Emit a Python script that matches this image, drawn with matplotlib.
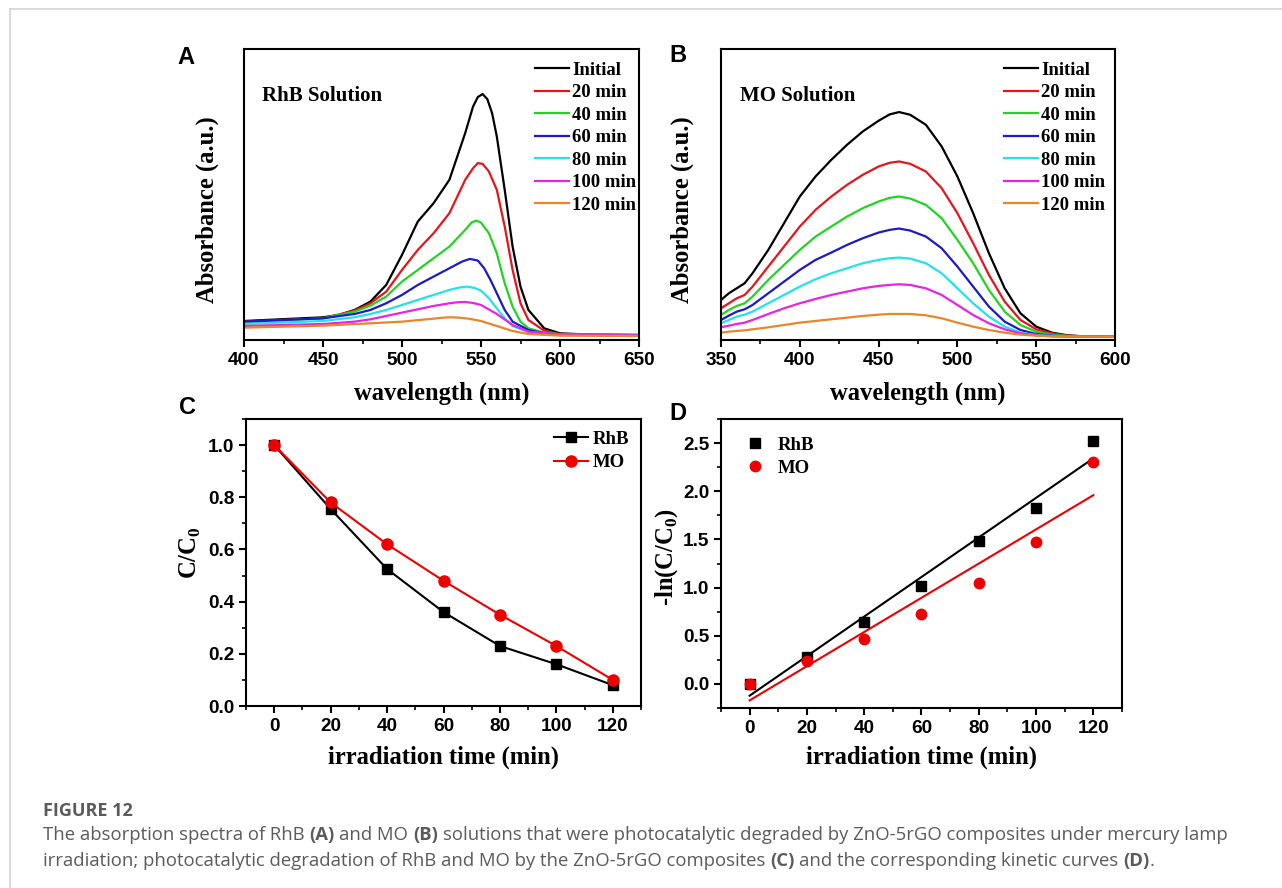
import numpy as np
import matplotlib
matplotlib.use("Agg")
import matplotlib.pyplot as plt
from matplotlib.lines import Line2D
from matplotlib.ticker import MultipleLocator

# ─────────────────────────────────────────────────────────────────────────────
# Data
# ─────────────────────────────────────────────────────────────────────────────

series_labels = ["Initial", "20 min", "40 min", "60 min", "80 min", "100 min", "120 min"]
series_colors = ["#000000", "#e8141c", "#22d422", "#1a1ac8", "#22e2ea", "#e624e6", "#e8862a"]

# (A) RhB spectra: wavelength (nm) and absorbance (a.u.)
rhb_wl = [
    [400, 450, 460, 470, 480, 490, 500, 510, 520, 530, 540, 545, 548, 551, 554, 557, 560, 565, 570, 575, 580, 590, 600, 620, 650],
    [400, 450, 470, 480, 490, 500, 510, 520, 530, 540, 545, 548, 551, 555, 560, 565, 570, 575, 580, 590, 600, 650],
    [400, 450, 470, 480, 490, 500, 510, 520, 530, 540, 544, 547, 550, 555, 560, 565, 570, 575, 580, 590, 600, 650],
    [400, 450, 470, 480, 490, 500, 510, 520, 530, 538, 543, 548, 552, 556, 560, 565, 570, 580, 590, 600, 650],
    [400, 450, 470, 480, 490, 500, 510, 520, 530, 536, 541, 546, 550, 555, 560, 565, 570, 580, 600, 650],
    [400, 450, 470, 480, 490, 500, 510, 520, 530, 535, 540, 545, 550, 560, 570, 580, 600, 650],
    [400, 450, 480, 500, 520, 526, 531, 536, 542, 550, 560, 570, 580, 600, 650],
]
rhb_abs = [
    [.057, .068, .075, .090, .115, .165, .255, .355, .410, .480, .620, .700, .728, .737, .722, .680, .610, .450, .280, .160, .090, .035, .020, .016, .015],
    [.055, .065, .088, .110, .145, .210, .270, .320, .380, .480, .515, .530, .528, .505, .450, .340, .210, .110, .060, .028, .018, .015],
    [.052, .065, .085, .103, .130, .175, .210, .245, .280, .330, .352, .358, .352, .320, .260, .170, .100, .055, .035, .022, .017, .015],
    [.055, .065, .078, .090, .110, .135, .165, .190, .215, .235, .243, .238, .215, .180, .140, .090, .055, .030, .020, .016, .014],
    [.048, .057, .068, .078, .090, .105, .120, .135, .150, .157, .160, .156, .148, .125, .095, .065, .042, .024, .016, .014],
    [.042, .048, .055, .062, .072, .082, .092, .102, .110, .113, .114, .111, .105, .078, .045, .025, .016, .014],
    [.037, .043, .050, .055, .064, .067, .068, .067, .064, .057, .042, .027, .018, .013, .012],
]

# (B) MO spectra
mo_wl = [350, 355, 360, 365, 370, 380, 390, 400, 410, 420, 430, 440, 450, 457, 463, 470,
         480, 490, 500, 510, 520, 530, 540, 550, 560, 570, 580, 600]
mo_abs = [
    [.120, .140, .155, .170, .200, .270, .350, .430, .490, .540, .585, .625, .657, .676, .683, .675,
     .645, .580, .490, .380, .260, .155, .080, .040, .022, .014, .011, .010],
    [.095, .110, .125, .135, .160, .220, .280, .340, .390, .430, .465, .495, .520, .531, .535, .528,
     .505, .455, .380, .290, .195, .115, .060, .032, .020, .013, .011, .010],
    [.075, .090, .102, .110, .130, .180, .225, .270, .310, .340, .370, .395, .415, .426, .430, .424,
     .405, .365, .300, .230, .150, .085, .045, .025, .016, .012, .011, .010],
    [.060, .073, .085, .092, .105, .140, .175, .210, .240, .262, .285, .305, .322, .330, .334, .328,
     .310, .275, .220, .160, .100, .055, .030, .018, .013, .011, .010, .010],
    [.050, .060, .070, .076, .085, .110, .135, .160, .182, .200, .215, .230, .240, .245, .247, .244,
     .230, .200, .155, .110, .070, .040, .022, .015, .012, .011, .010, .010],
    [.038, .043, .048, .052, .060, .078, .095, .110, .123, .135, .145, .155, .162, .165, .167, .165,
     .155, .135, .105, .075, .050, .032, .020, .014, .011, .010, .010, .010],
    [.022, .025, .027, .029, .032, .038, .045, .052, .057, .062, .067, .072, .076, .078, .078, .078,
     .074, .065, .052, .040, .030, .022, .016, .013, .011, .010, .010, .010],
]

# (C) and (D) degradation / kinetics
time_min = [0, 20, 40, 60, 80, 100, 120]
rhb_ratio = [1.0, 0.755, 0.525, 0.36, 0.23, 0.16, 0.08]
mo_ratio = [1.0, 0.78, 0.62, 0.48, 0.35, 0.23, 0.10]
rhb_ln = [0.0, 0.28, 0.64, 1.02, 1.48, 1.83, 2.52]
mo_ln = [0.0, 0.24, 0.47, 0.73, 1.05, 1.47, 2.30]

# ─────────────────────────────────────────────────────────────────────────────
# Styling
# ─────────────────────────────────────────────────────────────────────────────

SERIF = "Liberation Serif"
SANS = "Liberation Sans"
W, H = 1282, 888

plt.rcParams.update({
    "font.family": [SANS, "DejaVu Sans"],
    "font.weight": "bold",
    "axes.linewidth": 1.5,
    "xtick.major.width": 1.5,
    "ytick.major.width": 1.5,
    "xtick.minor.width": 1.2,
    "ytick.minor.width": 1.2,
    "xtick.major.size": 5,
    "ytick.major.size": 5,
    "xtick.minor.size": 3,
    "ytick.minor.size": 3,
    "xtick.direction": "out",
    "ytick.direction": "out",
    "xtick.labelsize": 13.7,
    "ytick.labelsize": 13.7,
    "mathtext.fontset": "custom",
    "mathtext.rm": SERIF,
    "mathtext.bf": SERIF + ":bold",
})

label_font = dict(family=SERIF, weight="bold", size=17.7)
legend_font = dict(family=SERIF, weight="bold", size=13.5)

fig = plt.figure(figsize=(W / 100, H / 100), dpi=100)


def px_axes(left, top, right, bottom):
    """Add axes using pixel coordinates measured from the top-left corner."""
    return fig.add_axes([left / W, 1 - bottom / H, (right - left) / W, (bottom - top) / H])


def style_axes(ax, xlabel, ylabel, xlab_y, ylab_x, ylab_y=0.5):
    ax.set_xlabel(xlabel, fontdict=label_font)
    ax.set_ylabel(ylabel, fontdict=label_font)
    ax.xaxis.set_label_coords(0.5, xlab_y)
    ax.xaxis.label.set_va("center")
    ax.yaxis.set_label_coords(ylab_x, ylab_y)
    ax.yaxis.label.set_va("center")
    ax.tick_params(which="both", top=False, right=False)


def spectra_legend(ax, anchor_x):
    ax.legend(loc="upper right", bbox_to_anchor=(anchor_x, 0.957), frameon=False,
              prop=legend_font, handlelength=1.8, handletextpad=0.18,
              labelspacing=0.29, borderaxespad=0, borderpad=0)


# ─────────────────────────────────────────────────────────────────────────────
# (A) RhB spectra
# ─────────────────────────────────────────────────────────────────────────────

ax_a = px_axes(244, 49, 639, 340)
for wl, ab, lab, col in zip(rhb_wl, rhb_abs, series_labels, series_colors):
    ax_a.plot(wl, ab, color=col, lw=1.6, label=lab)
ax_a.set_xlim(400, 650)
ax_a.set_ylim(0, 0.872)
ax_a.set_yticks([])
ax_a.xaxis.set_major_locator(MultipleLocator(50))
ax_a.xaxis.set_minor_locator(MultipleLocator(25))
style_axes(ax_a, "wavelength (nm)", "Absorbance (a.u.)", -0.182, -0.094, 0.447)
ax_a.text(0.046, 0.822, "RhB Solution", transform=ax_a.transAxes,
          family=SERIF, weight="bold", size=15)
spectra_legend(ax_a, 1 - 2.6 / 395)

# ─────────────────────────────────────────────────────────────────────────────
# (B) MO spectra
# ─────────────────────────────────────────────────────────────────────────────

ax_b = px_axes(721, 49, 1115, 340)
for ab, lab, col in zip(mo_abs, series_labels, series_colors):
    ax_b.plot(mo_wl, ab, color=col, lw=1.6, label=lab)
ax_b.set_xlim(350, 600)
ax_b.set_ylim(0, 0.872)
ax_b.set_yticks([])
ax_b.xaxis.set_major_locator(MultipleLocator(50))
ax_b.xaxis.set_minor_locator(MultipleLocator(25))
style_axes(ax_b, "wavelength (nm)", "Absorbance (a.u.)", -0.182, -0.099, 0.447)
ax_b.text(0.048, 0.822, "MO Solution", transform=ax_b.transAxes,
          family=SERIF, weight="bold", size=15)
spectra_legend(ax_b, 1 - 10 / 394)

# ─────────────────────────────────────────────────────────────────────────────
# (C) C/C0 vs time
# ─────────────────────────────────────────────────────────────────────────────

ax_c = px_axes(246, 419, 641, 706)
ax_c.plot(time_min, rhb_ratio, "-s", color="black", lw=1.5, ms=7.2, label="RhB")
ax_c.plot(time_min, mo_ratio, "-o", color="#ee0000", lw=1.5, ms=8, label="MO")
ax_c.set_xlim(-10, 130)
ax_c.set_ylim(0, 1.1)
ax_c.xaxis.set_major_locator(MultipleLocator(20))
ax_c.xaxis.set_minor_locator(MultipleLocator(10))
ax_c.yaxis.set_major_locator(MultipleLocator(0.2))
ax_c.yaxis.set_minor_locator(MultipleLocator(0.1))
ax_c.yaxis.set_major_formatter(plt.FormatStrFormatter("%.1f"))
style_axes(ax_c, "irradiation time (min)", r"C/C$_\mathbf{0}$", -0.178, -0.142, 0.533)
ax_c.legend(loc="upper right", bbox_to_anchor=(0.97, 0.96), frameon=False,
            prop=legend_font, handlelength=1.8, handletextpad=0.25,
            labelspacing=0.36, borderaxespad=0, borderpad=0)

# ─────────────────────────────────────────────────────────────────────────────
# (D) kinetics with linear fits
# ─────────────────────────────────────────────────────────────────────────────

ax_d = px_axes(721, 419, 1122, 708)
t = np.array(time_min, dtype=float)
for vals, col in [(rhb_ln, "black"), (mo_ln, "#ee0000")]:
    k, b = np.polyfit(t, vals, 1)
    ax_d.plot(t, k * t + b, color=col, lw=1.5)
ax_d.plot(time_min, rhb_ln, "s", color="black", ms=6.8, label="RhB")
ax_d.plot(time_min, mo_ln, "o", color="#ee0000", ms=7.5, label="MO")
ax_d.set_xlim(-10, 130)
ax_d.set_ylim(-0.25, 2.75)
ax_d.xaxis.set_major_locator(MultipleLocator(20))
ax_d.xaxis.set_minor_locator(MultipleLocator(10))
ax_d.yaxis.set_major_locator(MultipleLocator(0.5))
ax_d.yaxis.set_minor_locator(MultipleLocator(0.25))
ax_d.yaxis.set_major_formatter(plt.FormatStrFormatter("%.1f"))
style_axes(ax_d, "irradiation time (min)", r"-ln(C/C$_\mathbf{0}$)", -0.17, -0.135, 0.522)
ax_d.legend(loc="upper left", bbox_to_anchor=(0.067, 0.9386), frameon=False,
            prop=legend_font, handlelength=0.8, handletextpad=0.8,
            labelspacing=0.3, borderaxespad=0, borderpad=0)

# Panel letters
for letter, (x, y) in zip("ABCD", [(186, 57), (678, 55), (187, 407), (678, 413)]):
    fig.text(x / W, 1 - y / H, letter, ha="center", va="center",
             family=SANS, weight="bold", size=17)

# ─────────────────────────────────────────────────────────────────────────────
# Page frame and caption
# ─────────────────────────────────────────────────────────────────────────────

frame_kw = dict(color="#d4d4d4", lw=1.2, transform=fig.transFigure)
fig.add_artist(Line2D([9.5 / W, 1], [1 - 9.5 / H, 1 - 9.5 / H], **frame_kw))
fig.add_artist(Line2D([9.5 / W, 9.5 / W], [0, 1 - 9.5 / H], **frame_kw))

CAP_FONT = ["Open Sans", "DejaVu Sans"]
CAP_COLOR = "#5b5b5b"
CAP_SIZE = 13.3
fig.text(43 / W, 1 - 815.5 / H, "FIGURE 12", family=CAP_FONT, weight="bold",
         size=13, color=CAP_COLOR, va="baseline")

caption_lines = [
    [("The absorption spectra of RhB", False), ("(A)", True), ("and MO", False), ("(B)", True),
     ("solutions that were photocatalytic degraded by ZnO-5rGO composites under mercury lamp", False)],
    [("irradiation; photocatalytic degradation of RhB and MO by the ZnO-5rGO composites", False),
     ("(C)", True), ("and the corresponding kinetic curves", False), ("(D)", True), (".", False)],
]
caption_baselines = [840, 865.5]

renderer = fig.canvas.get_renderer()


def text_width(s, weight):
    tmp = fig.text(0, 0, s, family=CAP_FONT, weight=weight, size=CAP_SIZE)
    w = tmp.get_window_extent(renderer).width
    tmp.remove()
    return w


space_w = text_width("x x", "normal") - text_width("xx", "normal")
for runs, base in zip(caption_lines, caption_baselines):
    x = 43.0
    for i, (chunk, bold) in enumerate(runs):
        if i > 0 and chunk != ".":
            x += space_w
        txt = fig.text(x / W, 1 - base / H, chunk, family=CAP_FONT,
                       weight="bold" if bold else "normal", size=CAP_SIZE,
                       color=CAP_COLOR, va="baseline")
        x = txt.get_window_extent(renderer).x1

fig.savefig("out.png", dpi=100)
